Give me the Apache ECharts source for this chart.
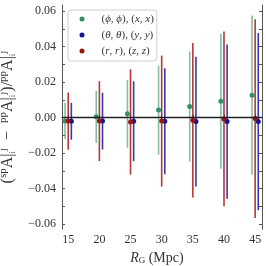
<!DOCTYPE html>
<html><head><meta charset="utf-8">
<script src="https://cdn.jsdelivr.net/npm/echarts@6/dist/echarts.min.js"></script>
<style>html,body{margin:0;padding:0;background:#fff}#c{width:266px;height:266px}</style>
</head><body><div id="c"></div>
<script>
const radii = [15, 20, 25, 30, 35, 40, 45];
// (phi,phi),(x,x)
const greenVal = [-0.0020, 0.0004, 0.0021, 0.0042, 0.0062, 0.0092, 0.0126];
const greenErr = [0.0103, 0.0147, 0.0191, 0.0251, 0.0310, 0.0380, 0.0449];
// (theta,theta),(y,y)
const blueVal = [-0.0021, -0.0020, -0.0021, -0.0021, -0.0023, -0.0023, -0.0023];
const blueErr = [0.0104, 0.0160, 0.0225, 0.0299, 0.0366, 0.0434, 0.0499];
// (r,r),(z,z)
const redVal = [-0.0020, -0.0020, -0.0025, -0.0020, -0.0015, -0.0008, -0.0006];
const redErr = [0.0161, 0.0225, 0.0297, 0.0369, 0.0435, 0.0492, 0.0560];
const xTicks = [15, 20, 25, 30, 35, 40, 45];
const yTicks = [-0.06, -0.05, -0.04, -0.03, -0.02, -0.01, 0, 0.01, 0.02, 0.03, 0.04, 0.05, 0.06];
const yLabels = [-0.06, -0.04, -0.02, 0, 0.02, 0.04, 0.06];

const names = ['g', 'b', 'r'];
const legendNames = {
  g: '{n|(}{i|ϕ}{n|, }{i|ϕ}{n|), (}{i|x}{n|, }{i|x}{n|)}',
  b: '{n|(}{i|θ}{n|, }{i|θ}{n|), (}{i|y}{n|, }{i|y}{n|)}',
  r: '{n|(}{i|r}{n|, }{i|r}{n|), (}{i|z}{n|, }{i|z}{n|)}'
};
const groups = {
  g: {val: greenVal, err: greenErr, off: -0.5, mk: '#2f9463', bar: 'rgba(46,150,90,0.6)'},
  b: {val: blueVal, err: blueErr, off: 0.5, mk: '#15158f', bar: 'rgba(20,20,170,0.85)'},
  r: {val: redVal, err: redErr, off: 0, mk: '#9c1414', bar: 'rgba(170,20,20,0.85)'}
};
const serif = 'Liberation Serif';
const fmt = v => (v < 0 ? '\u2212' : '') + Math.abs(v).toFixed(2);

const series = [];
names.forEach(k => {
  const g = groups[k];
  series.push({
    type: 'custom', name: k + '_err', silent: true, z: 2,
    data: radii.map((r, i) => [r + g.off, g.val[i], g.err[i]]),
    renderItem: (params, api) => {
      const x = api.value(0), y = api.value(1), e = api.value(2);
      const p1 = api.coord([x, y - e]), p2 = api.coord([x, y + e]);
      return {type: 'line', shape: {x1: p1[0], y1: p1[1], x2: p2[0], y2: p2[1]},
        style: {stroke: g.bar, lineWidth: 1.6}};
    }
  });
});
series.push({
  type: 'line', name: 'zero', silent: true, z: 3, data: [],
  markLine: {silent: true, symbol: 'none', label: {show: false},
    lineStyle: {color: '#1a1a1a', width: 1.3, type: 'solid', opacity: 0.9},
    data: [{yAxis: 0}]}
});
names.forEach(k => {
  const g = groups[k];
  series.push({
    type: 'scatter', name: k, z: 4, symbol: 'circle', symbolSize: 5,
    itemStyle: {color: g.mk, opacity: 1},
    data: radii.map((r, i) => [r + g.off, g.val[i]])
  });
});

const tc = '#333';
const yName = '{n|(}{s|sp}{n|A|}{b|i}{s|j}{n|  −  }{s|pp}{n|A|}{b|i}{s|j}{n|)/}{s|pp}{n|A|}{b|i}{s|j}';

const chart = echarts.init(document.getElementById('c'), null, {renderer: 'canvas'});
chart.setOption({
  animation: false,
  backgroundColor: '#fff',
  grid: {left: 62, right: 4, top: 5, bottom: 37, containLabel: false, outerBoundsMode: 'none'},
  legend: {
    data: names, left: 68, top: 10, orient: 'vertical',
    itemWidth: 5, itemHeight: 5, itemGap: 2, icon: 'circle',
    padding: [2, 3, 3, 11.5],
    borderColor: '#d0d0d0', borderWidth: 1, borderRadius: 3,
    backgroundColor: 'rgba(255,255,255,0.85)',
    formatter: n => legendNames[n],
    textStyle: {fontFamily: serif, fontSize: 11, color: tc, lineHeight: 14, padding: [0, 0, 0, 12],
      rich: {n: {fontFamily: serif, fontSize: 11, color: tc}, i: {fontFamily: serif, fontSize: 11, fontStyle: 'italic', color: tc}}}
  },
  xAxis: [{
    type: 'value', min: 14.0, max: 46.1, position: 'bottom',
    name: '{i|R}{s|G} {n|(Mpc)}', nameLocation: 'middle', nameGap: 18,
    nameTextStyle: {padding: [0, 10, 0, 0], rich: {
      i: {fontFamily: serif, fontSize: 14, fontStyle: 'italic', color: tc},
      s: {fontFamily: serif, fontSize: 9, color: tc, verticalAlign: 'bottom', padding: [6, 0, 0, 0]},
      n: {fontFamily: serif, fontSize: 14, color: tc}}},
    axisLine: {show: true, lineStyle: {color: '#555', width: 1}},
    axisTick: {show: true, inside: true, length: 3, customValues: xTicks, lineStyle: {color: '#555'}},
    axisLabel: {customValues: xTicks, fontFamily: serif, fontSize: 12, color: tc, margin: 5},
    splitLine: {show: false}
  }, {
    type: 'value', min: 14.0, max: 46.1, position: 'top',
    axisLine: {show: true, lineStyle: {color: '#555', width: 1}},
    axisTick: {show: true, inside: true, length: 3, customValues: xTicks, lineStyle: {color: '#555'}},
    axisLabel: {show: false}, splitLine: {show: false}
  }],
  yAxis: [{
    type: 'value', min: -0.0628, max: 0.0634, position: 'left',
    name: yName, nameLocation: 'middle', nameGap: 44, nameRotate: 90,
    nameTextStyle: {lineHeight: 20, rich: {
      n: {fontFamily: serif, fontSize: 16, color: tc, lineHeight: 20},
      s: {fontFamily: serif, fontSize: 11, color: tc, verticalAlign: 'top', lineHeight: 20},
      b: {fontFamily: serif, fontSize: 9, color: tc, verticalAlign: 'bottom', lineHeight: 20}}},
    axisLine: {show: true, lineStyle: {color: '#555', width: 1}},
    axisTick: {show: true, inside: true, length: 3, customValues: yTicks, lineStyle: {color: '#555'}},
    axisLabel: {customValues: yLabels, formatter: fmt, fontFamily: serif, fontSize: 12, color: tc, margin: 6},
    splitLine: {show: false}
  }, {
    type: 'value', min: -0.0628, max: 0.0634, position: 'right',
    axisLine: {show: true, lineStyle: {color: '#555', width: 1}},
    axisTick: {show: true, inside: true, length: 3, customValues: yTicks, lineStyle: {color: '#555'}},
    axisLabel: {show: false}, splitLine: {show: false}
  }],
  series: series
});
</script></body></html>
